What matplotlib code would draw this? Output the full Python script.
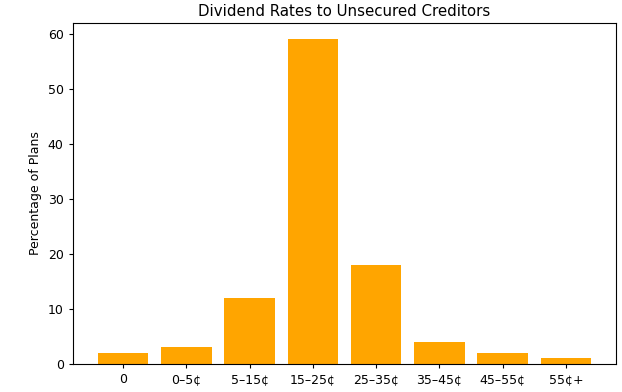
import matplotlib
matplotlib.use('Agg')
import matplotlib.pyplot as plt

# dividend ranges and share of plans (%)
categories = ['0', '0–5¢', '5–15¢', '15–25¢', '25–35¢', '35–45¢', '45–55¢', '55¢+']
percentages = [2, 3, 12, 59, 18, 4, 2, 1]

fig, ax = plt.subplots(figsize=(6.22, 3.92), dpi=100)
# axes box: x 73..616 px, y 23..364 px
fig.subplots_adjust(left=73/622, right=616/622, top=1 - 23/392, bottom=1 - 364/392)

ax.bar(categories, percentages, color='orange')
ax.set_title('Dividend Rates to Unsecured Creditors', fontsize=10.8, pad=5)
ax.set_ylabel('Percentage of Plans', fontsize=9)
ax.tick_params(labelsize=9, length=3.2)

fig.savefig('out.png', dpi=100)
